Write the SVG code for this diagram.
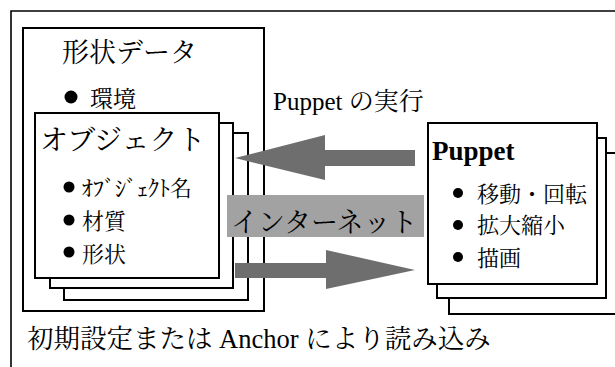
<svg xmlns="http://www.w3.org/2000/svg" width="615" height="367" viewBox="0 0 615 367">
<style>
.box{fill:#fff;stroke:#000;stroke-width:2}
.frame{fill:none;stroke:#000;stroke-width:1.6}
.t{font-family:"Liberation Serif","Noto Serif CJK JP","Noto Sans CJK JP",serif;fill:#000}
.b{font-weight:bold}
.arrow{fill:#6e6e6e}
.band{fill:#a2a2a2}
</style>
<rect width="615" height="367" fill="#fff"/>
<path class="frame" d="M11,367 V11 H615"/>
<g id="shape-data">
  <rect class="box" x="23" y="28" width="241" height="283"/>
  <text class="t" x="62" y="62" font-size="27">形状データ</text>
  <circle cx="71" cy="97" r="6.5"/>
  <text class="t" x="90" y="107" font-size="23">環境</text>
</g>
<g id="object">
  <rect class="box" x="64" y="133" width="184" height="167"/>
  <rect class="box" x="50" y="123" width="183" height="165"/>
  <rect class="box" x="35" y="113" width="184" height="165"/>
  <text class="t" x="40" y="150" font-size="28">オブジェクト</text>
  <circle cx="69" cy="187" r="5.5"/>
  <text class="t" x="82" y="196" font-size="22">ｵﾌﾞｼﾞｪｸﾄ名</text>
  <circle cx="69" cy="220" r="5.5"/>
  <text class="t" x="82" y="229" font-size="22">材質</text>
  <circle cx="69" cy="252" r="5.5"/>
  <text class="t" x="82" y="262" font-size="22">形状</text>
</g>
<g id="puppet">
  <rect class="box" x="449" y="153" width="170" height="161"/>
  <rect class="box" x="437" y="138" width="169" height="160"/>
  <rect class="box" x="428" y="123" width="169" height="161"/>
  <text class="t b" x="432" y="160" font-size="27">Puppet</text>
  <circle cx="458" cy="193" r="5"/>
  <text class="t" x="477" y="202" font-size="22">移動・回転</text>
  <circle cx="458" cy="225" r="5"/>
  <text class="t" x="477" y="233" font-size="22">拡大縮小</text>
  <circle cx="458" cy="257" r="5"/>
  <text class="t" x="477" y="266" font-size="22">描画</text>
</g>
<g id="connectors">
  <rect class="band" x="227" y="195" width="197" height="42"/>
  <text class="t" x="231" y="232" font-size="27">インターネット</text>
  <polygon class="arrow" points="235,158 325,135 325,150 415,150 415,166 325,166 325,180"/>
  <polygon class="arrow" points="415,270 326,250 326,263 235,263 235,278 326,278 326,289"/>
</g>
<text class="t" x="273" y="110" font-size="25">Puppet の実行</text>
<text class="t" x="27" y="348" font-size="26.5">初期設定または Anchor により読み込み</text>
</svg>
